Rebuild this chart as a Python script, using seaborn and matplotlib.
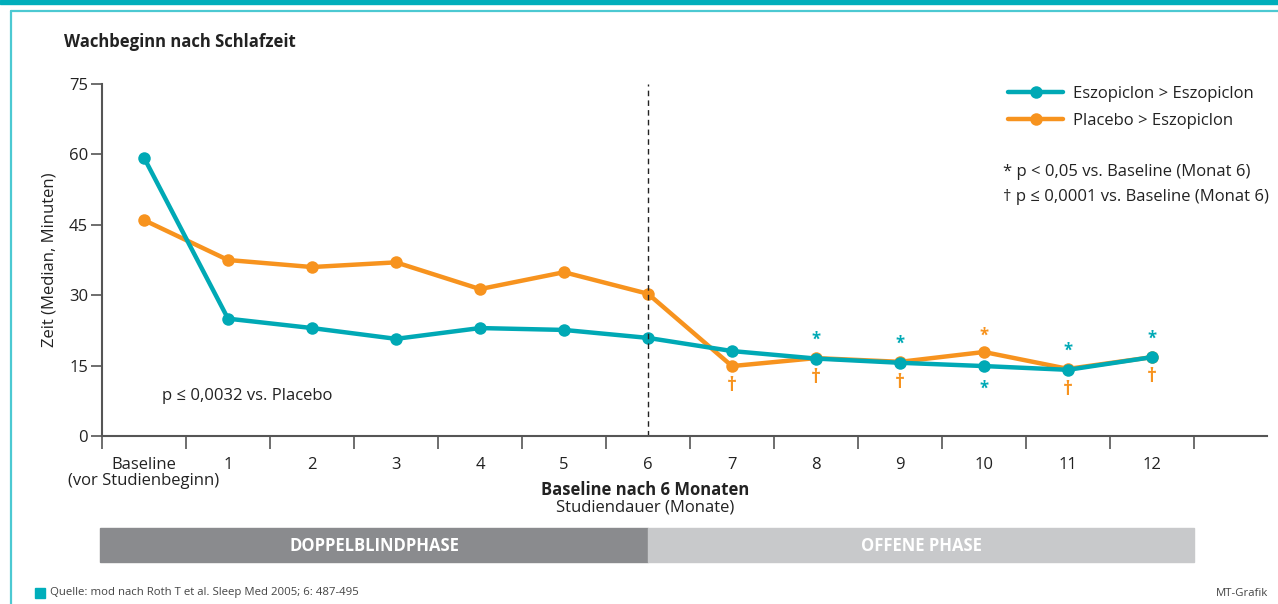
import matplotlib
matplotlib.use("Agg")
import matplotlib.pyplot as plt
import matplotlib.patches as mpatches
from matplotlib.lines import Line2D
import pandas as pd
import seaborn as sns

# data
months = list(range(13))
tick_labels = ["Baseline\n(vor Studienbeginn)"] + [str(m) for m in range(1, 13)]
eszo_eszo = [59.3, 25.0, 23.0, 20.7, 23.0, 22.6, 20.9, 18.1, 16.5, 15.6, 14.9, 14.1, 16.8]
plac_eszo = [46.0, 37.5, 36.0, 37.0, 31.3, 34.9, 30.3, 14.9, 16.6, 15.8, 17.9, 14.3, 16.8]
series_names = ["Eszopiclon > Eszopiclon", "Placebo > Eszopiclon"]

# significance marks
marks_teal_above = [8, 9, 11, 12]
marks_teal_below = [10]
marks_orange_star = [10]
marks_orange_dagger = [7, 8, 9, 11, 12]

TEAL = "#00A9B5"
ORANGE = "#F7931E"
DARK = "#222222"
FS = 12

sns.set_theme(style="white")
plt.rcParams["font.family"] = ["Open Sans", "DejaVu Sans"]

df = pd.DataFrame({
    "Monat": months * 2,
    "Zeit": plac_eszo + eszo_eszo,
    "Gruppe": [series_names[1]] * 13 + [series_names[0]] * 13,
})

W, H = 1278, 604
fig = plt.figure(figsize=(W / 100, H / 100), dpi=100)
ax = fig.add_axes([102 / W, 1 - 436 / H, (1267 - 102) / W, (436 - 84) / H])

sns.lineplot(data=df, x="Monat", y="Zeit", hue="Gruppe",
             hue_order=[series_names[1], series_names[0]],
             palette={series_names[0]: TEAL, series_names[1]: ORANGE},
             marker="o", markersize=9, markeredgewidth=0, linewidth=3.2,
             legend=False, ax=ax)

ax.set_xlim(-0.5, (1267 - 144) / 84)
ax.set_ylim(0, 75)
ax.axvline(6, ymin=0, ymax=1, color=DARK, linestyle=(0, (4, 3)), linewidth=1)

for side in ["top", "right"]:
    ax.spines[side].set_visible(False)
for side in ["left", "bottom"]:
    ax.spines[side].set_color("#555555")
    ax.spines[side].set_linewidth(1.5)

ax.set_yticks([0, 15, 30, 45, 60, 75])
ax.tick_params(axis="y", which="major", direction="out", length=8, width=1.2,
               color="#555555", labelsize=FS, labelcolor=DARK, pad=2, left=True)
ax.set_xticks(months)
ax.set_xticklabels(tick_labels, fontsize=FS, color=DARK, linespacing=1.05)
ax.set_xticks([m - 0.5 for m in range(14)], minor=True)
ax.tick_params(axis="x", which="major", length=0, pad=15)
ax.tick_params(axis="x", which="minor", direction="out", length=9, width=1.2,
               color="#555555", bottom=True)
ax.set_xlabel("")
ax.set_ylabel("Zeit (Median, Minuten)", fontsize=FS, color=DARK, labelpad=8)
ax.grid(False)

# significance symbols
for m in marks_teal_above:
    ax.annotate("*", (m, eszo_eszo[m]), xytext=(0, 7), textcoords="offset points",
                ha="center", va="bottom", color=TEAL, fontsize=12, fontweight="bold")
for m in marks_teal_below:
    ax.annotate("*", (m, eszo_eszo[m]), xytext=(0, -10), textcoords="offset points",
                ha="center", va="top", color=TEAL, fontsize=12, fontweight="bold")
for m in marks_orange_star:
    ax.annotate("*", (m, plac_eszo[m]), xytext=(0, 5), textcoords="offset points",
                ha="center", va="bottom", color=ORANGE, fontsize=12, fontweight="bold")
for m in marks_orange_dagger:
    ax.annotate("†", (m, min(plac_eszo[m], eszo_eszo[m])), xytext=(0, -7),
                textcoords="offset points", ha="center", va="top",
                color=ORANGE, fontsize=14, fontweight="bold")

ax.text(0.22, 8.5, "p ≤ 0,0032 vs. Placebo", fontsize=FS, color=DARK, va="center")

# legend
handles = [Line2D([], [], color=TEAL, lw=3.2, marker="o", markersize=9, markeredgewidth=0),
           Line2D([], [], color=ORANGE, lw=3.2, marker="o", markersize=9, markeredgewidth=0)]
fig.legend(handles, series_names, loc="upper left", bbox_to_anchor=(993 / W, 1 - 71 / H),
           frameon=False, fontsize=FS, handlelength=3.3, labelspacing=0.65,
           handletextpad=0.6, labelcolor=DARK)
fig.text(1003 / W, 1 - 172 / H, "* p < 0,05 vs. Baseline (Monat 6)", fontsize=FS,
         color=DARK, va="center")
fig.text(1003 / W, 1 - 197 / H, "† p ≤ 0,0001 vs. Baseline (Monat 6)", fontsize=FS,
         color=DARK, va="center")

# title and axis captions
fig.text(64 / W, 1 - 42 / H, "Wachbeginn nach Schlafzeit", fontsize=FS,
         fontweight="bold", color=DARK, va="center")
fig.text(645 / W, 1 - 490 / H, "Baseline nach 6 Monaten", fontsize=FS,
         fontweight="bold", color=DARK, ha="center", va="center")
fig.text(645 / W, 1 - 507 / H, "Studiendauer (Monate)", fontsize=FS,
         color=DARK, ha="center", va="center")

# phase bars
fig.patches.append(mpatches.Rectangle((100 / W, 1 - 562 / H), (648 - 100) / W, 34 / H,
                                      transform=fig.transFigure, color="#8A8B8E", zorder=0))
fig.patches.append(mpatches.Rectangle((648 / W, 1 - 562 / H), (1194 - 648) / W, 34 / H,
                                      transform=fig.transFigure, color="#C8C9CB", zorder=0))
fig.text(374 / W, 1 - 546 / H, "DOPPELBLINDPHASE", fontsize=FS, fontweight="bold",
         color="white", ha="center", va="center")
fig.text(921 / W, 1 - 546 / H, "OFFENE PHASE", fontsize=FS, fontweight="bold",
         color="white", ha="center", va="center")

# frame
fig.patches.append(mpatches.Rectangle((0, 1 - 4 / H), 1, 4 / H, transform=fig.transFigure,
                                      color="#00AEBB", zorder=0))
fig.lines.append(Line2D([10.5 / W, 1], [1 - 11 / H, 1 - 11 / H], transform=fig.transFigure,
                        color="#4CC9D2", lw=1.6))
fig.lines.append(Line2D([10.5 / W, 10.5 / W], [1 - 11 / H, 0], transform=fig.transFigure,
                        color="#4CC9D2", lw=1.6))

# footer
fig.patches.append(mpatches.Rectangle((35 / W, 1 - 598 / H), 10 / W, 10 / H,
                                      transform=fig.transFigure, color="#00AEBB"))
fig.text(50 / W, 1 - 593 / H, "Quelle: mod nach Roth T et al. Sleep Med 2005; 6: 487-495",
         fontsize=8.2, color="#444444", va="center")
fig.text(1268 / W, 1 - 593 / H, "MT-Grafik", fontsize=8.2, color="#444444",
         va="center", ha="right")

fig.savefig("out.png", dpi=100)
